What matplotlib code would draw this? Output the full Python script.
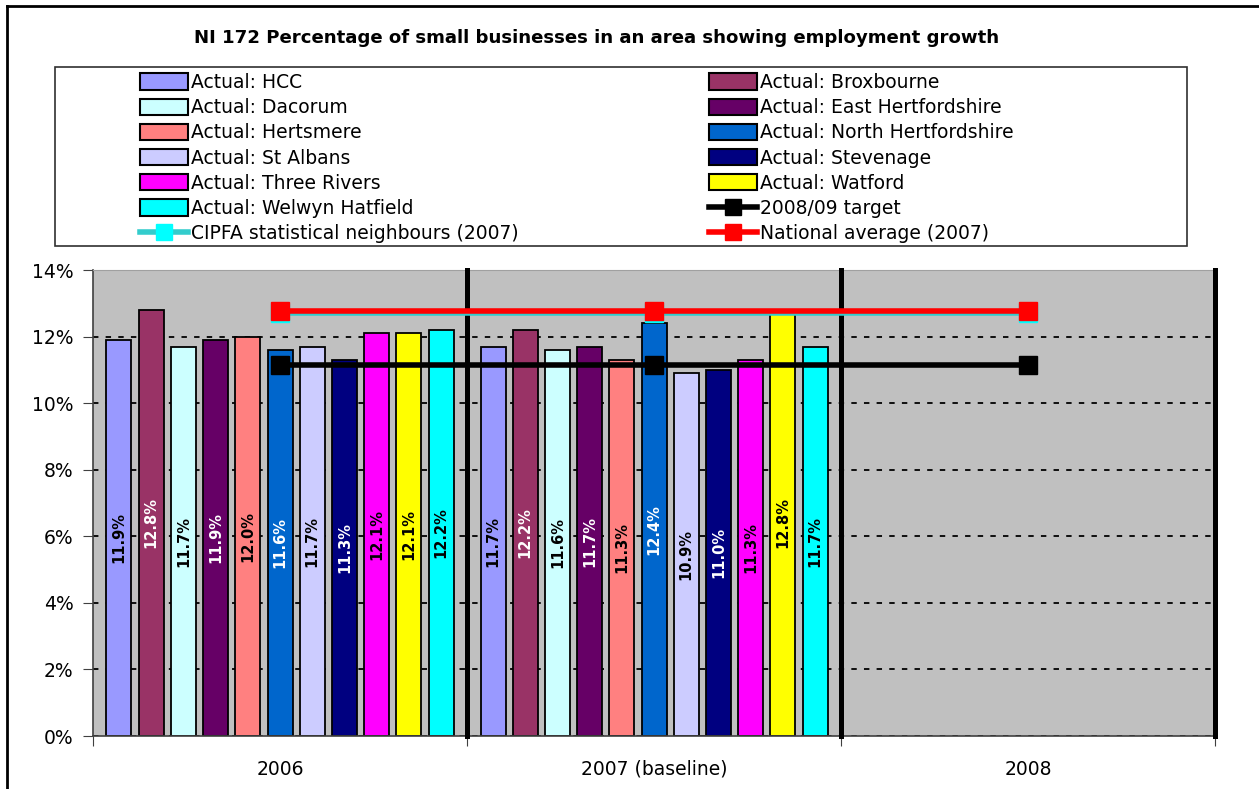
import numpy as np
import matplotlib.pyplot as plt
from matplotlib.patches import Patch, Rectangle
from matplotlib.lines import Line2D

# Data
categories = ['2006', '2007 (baseline)', '2008']
series = ['Actual: HCC', 'Actual: Broxbourne', 'Actual: Dacorum', 'Actual: East Hertfordshire',
          'Actual: Hertsmere', 'Actual: North Hertfordshire', 'Actual: St Albans',
          'Actual: Stevenage', 'Actual: Three Rivers', 'Actual: Watford', 'Actual: Welwyn Hatfield']
values_2006 = [11.9, 12.8, 11.7, 11.9, 12.0, 11.6, 11.7, 11.3, 12.1, 12.1, 12.2]
values_2007 = [11.7, 12.2, 11.6, 11.7, 11.3, 12.4, 10.9, 11.0, 11.3, 12.8, 11.7]
target = [11.15, 11.15, 11.15]
cipfa = [12.7, 12.7, 12.7]
national = [12.77, 12.77, 12.77]

colors = ['#9999FF', '#993366', '#CCFFFF', '#660066', '#FF8080', '#0066CC',
          '#CCCCFF', '#000080', '#FF00FF', '#FFFF00', '#00FFFF']
white_text = {1, 3, 5, 7}

W, H = 1259, 789
fig = plt.figure(figsize=(W / 100, H / 100), dpi=100)
ax = fig.add_axes([93 / W, 1 - 736 / H, (1215 - 93) / W, (736 - 270) / H])
ax.set_facecolor('#C0C0C0')

x = np.arange(len(categories))
pitch = 32.2 / 374
width = 25 / 374
for i, name in enumerate(series):
    vals = [values_2006[i], values_2007[i], np.nan]
    xs = x + (i - 5) * pitch
    ax.bar(xs, vals, width=width, color=colors[i], edgecolor='black', linewidth=1.3, zorder=2)
    for xi, v in zip(xs, vals):
        if np.isnan(v):
            continue
        ax.text(xi, v / 2, f'{v:.1f}%', rotation=90, ha='center', va='center',
                fontsize=10.5, fontweight='bold',
                color='white' if i in white_text else 'black', zorder=6)

# category separators
for xv in [0.5, 1.5, 2.5]:
    ax.axvline(xv, color='black', linewidth=3.6, zorder=3, clip_on=False)

ax.plot(x, target, color='black', linewidth=4, marker='s', markersize=13, zorder=4)
ax.plot(x, cipfa, color='#33CCCC', linewidth=4, marker='s', markersize=13,
        markerfacecolor='#00FFFF', markeredgecolor='#00FFFF', zorder=4)
ax.plot(x, national, color='red', linewidth=4, marker='s', markersize=13, zorder=4.5)

ax.set_xlim(-0.5, 2.5)
ax.set_ylim(0, 14)
ax.set_yticks(np.arange(0, 15, 2))
ax.set_yticklabels([f'{v}%' for v in range(0, 15, 2)], fontsize=13.5)
ax.yaxis.grid(True, color='black', linestyle=(0, (3, 4)), linewidth=1.3, zorder=1)
ax.set_axisbelow(True)

ax.set_xticks([-0.5, 0.5, 1.5, 2.5])
ax.set_xticklabels([])
ax.set_xticks(x, minor=True)
ax.set_xticklabels(categories, minor=True, fontsize=13.5)
ax.tick_params(axis='x', which='major', length=7, color='#404040')
ax.tick_params(axis='x', which='minor', length=0, pad=17)
ax.tick_params(axis='y', length=7, pad=7, color='#404040')

for s in ['top', 'right']:
    ax.spines[s].set_color('#A0A0A0')
for s in ['left', 'bottom']:
    ax.spines[s].set_color('#404040')
    ax.spines[s].set_linewidth(1.2)

fig.text(597 / W, 1 - 38 / H,
         'NI 172 Percentage of small businesses in an area showing employment growth',
         ha='center', va='center', fontsize=13.1, fontweight='bold')

# legend box and two columns
fig.patches.append(Rectangle((55 / W, 1 - 246 / H), (1187 - 55) / W, (246 - 67) / H,
                             transform=fig.transFigure, facecolor='white',
                             edgecolor='#303030', linewidth=1.2, zorder=0))

def bar_handle(i):
    return Patch(facecolor=colors[i], edgecolor='black', linewidth=1.5)

col1 = [bar_handle(i) for i in [0, 2, 4, 6, 8, 10]]
col1_labels = [series[i] for i in [0, 2, 4, 6, 8, 10]]
col1.append(Line2D([], [], color='#33CCCC', linewidth=4, marker='s', markersize=11,
                   markerfacecolor='#00FFFF', markeredgecolor='#00FFFF'))
col1_labels.append('CIPFA statistical neighbours (2007)')
col2 = [bar_handle(i) for i in [1, 3, 5, 7, 9]]
col2_labels = [series[i] for i in [1, 3, 5, 7, 9]]
col2.append(Line2D([], [], color='black', linewidth=4, marker='s', markersize=11))
col2_labels.append('2008/09 target')
col2.append(Line2D([], [], color='red', linewidth=4, marker='s', markersize=11))
col2_labels.append('National average (2007)')

for handles, labels, xpos in [(col1, col1_labels, 140), (col2, col2_labels, 709)]:
    fig.legend(handles, labels, loc='upper left', bbox_to_anchor=(xpos / W, 1 - 73 / H),
               frameon=False, fontsize=13.5, borderpad=0, borderaxespad=0,
               handlelength=2.56, handleheight=0.96, handletextpad=0.16, labelspacing=0.33)

# outer chart border (top and left visible)
fig.add_artist(Line2D([7 / W, 1], [1 - 6 / H, 1 - 6 / H], color='black', linewidth=2,
                      transform=fig.transFigure))
fig.add_artist(Line2D([7 / W, 7 / W], [0, 1 - 6 / H], color='black', linewidth=2,
                      transform=fig.transFigure))

fig.savefig('out.png', dpi=100)
